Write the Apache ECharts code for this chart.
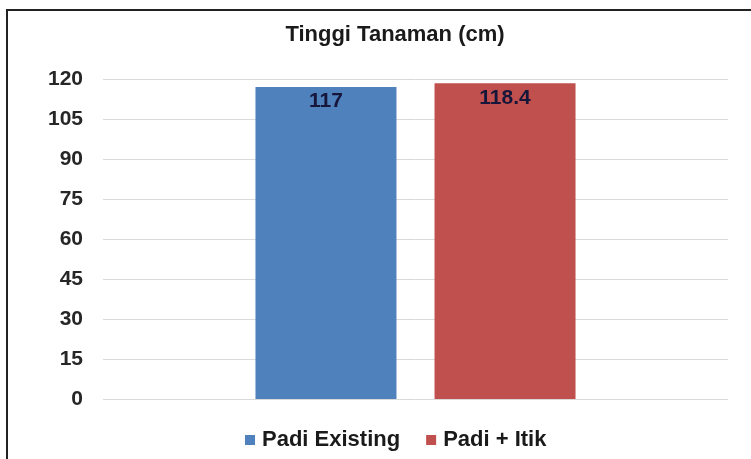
<!DOCTYPE html>
<html><head><meta charset="utf-8">
<script src="https://cdn.jsdelivr.net/npm/echarts@6/dist/echarts.min.js"></script>
<style>html,body{margin:0;padding:0;background:#fff}#c{width:751px;height:459px}</style>
</head><body><div id="c"></div>
<script>
const categories = ['Tinggi Tanaman'];
const seriesNames = ['Padi Existing', 'Padi + Itik'];
const padiExisting = [117];
const padiItik = [118.4];
const yTicks = [0, 15, 30, 45, 60, 75, 90, 105, 120];

const font = 'Liberation Sans, Arial, sans-serif';
const chart = echarts.init(document.getElementById('c'));
const lbl = {show: true, position: 'insideTop', distance: 4, color: '#16163a', fontFamily: font, fontWeight: 'bold', fontSize: 21};
chart.setOption({
  animation: false,
  title: {text: 'Tinggi Tanaman (cm)', left: 390, textAlign: 'center', top: 19,
    textStyle: {fontFamily: font, fontWeight: 'bold', fontSize: 22, color: '#1a1a1a'}},
  graphic: [{type: 'rect', shape: {x: 7, y: 10, width: 800, height: 500}, style: {fill: 'none', stroke: '#222', lineWidth: 2}}],
  legend: {data: seriesNames, top: 424, left: 240, itemWidth: 10, itemHeight: 10, itemGap: 26,
    icon: 'rect', textStyle: {fontFamily: font, fontWeight: 'bold', fontSize: 22, color: '#1a1a1a', padding: [0, 0, 0, 2]}},
  grid: {left: 103, right: 23, top: 79, bottom: 60},
  xAxis: {type: 'category', data: categories, axisLine: {show: false}, axisTick: {show: false}, axisLabel: {show: false}},
  yAxis: {type: 'value', min: yTicks[0], max: yTicks[yTicks.length-1], interval: 15,
    axisLine: {show: false}, axisTick: {show: false},
    axisLabel: {margin: 20, fontFamily: font, fontWeight: 'bold', fontSize: 21, color: '#262626'},
    splitLine: {lineStyle: {color: '#d9d9d9', width: 1}}},
  series: [
    {name: seriesNames[0], type: 'bar', data: padiExisting, itemStyle: {color: '#4F81BD'}, barWidth: 141, barGap: '27%', label: lbl},
    {name: seriesNames[1], type: 'bar', data: padiItik, itemStyle: {color: '#C0504D'}, barWidth: 141, barGap: '27%', label: lbl}
  ]
});
</script></body></html>
